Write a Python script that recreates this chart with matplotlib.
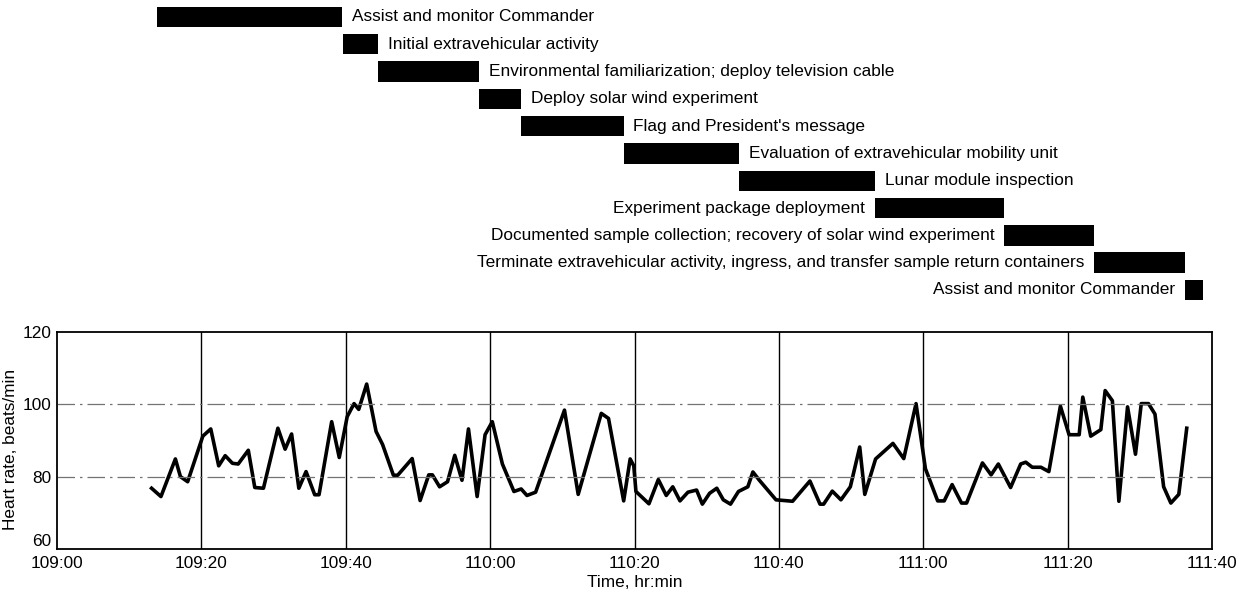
import numpy as np
import matplotlib.pyplot as plt

# time in minutes after 109:00 ground elapsed time
tick_minutes = [0, 20, 40, 60, 80, 100, 120, 140, 160]
tick_labels = ["109:00", "109:20", "109:40", "110:00", "110:20",
               "110:40", "111:00", "111:20", "111:40"]

hr_minutes = [13.1, 14.4, 16.4, 17.1, 18.1, 20.2, 21.3, 22.4, 23.3, 24.3,
              25.1, 26.5, 27.4, 28.6, 30.6, 31.6, 32.5, 33.5, 34.5, 35.7,
              36.3, 38.05, 39.1, 40.2, 41.15, 41.8, 42.9, 44.2, 45.1, 46.6,
              47.2, 49.2, 50.3, 51.5, 52.0, 53.0, 54.1, 55.1, 56.1, 57.0,
              58.2, 59.3, 60.3, 61.7, 63.3, 64.3, 65.1, 66.3, 70.3, 72.2,
              75.4, 76.4, 78.5, 79.4, 79.9, 80.2, 82.0, 83.3, 84.4, 85.3,
              86.3, 87.4, 88.6, 89.4, 90.4, 91.4, 92.3, 93.3, 94.4, 95.7,
              96.4, 97.3, 99.6, 101.9, 104.3, 105.7, 106.2, 107.4, 108.6, 109.9,
              111.2, 111.9, 113.4, 115.8, 117.3, 119.0, 120.3, 122.0, 122.9, 124.0,
              125.3, 126.0, 128.2, 129.4, 130.4, 132.1, 133.5, 134.2, 135.1, 136.3,
              137.4, 139.0, 140.2, 141.6, 142.1, 143.2, 144.6, 145.2, 146.2, 147.1,
              148.3, 149.4, 150.2, 151.2, 152.1, 153.3, 154.3, 155.4, 156.5]
heart_rate = [76.8, 74.5, 84.9, 80.0, 78.6, 91.2, 93.2, 83.0, 85.8, 83.7,
              83.5, 87.3, 77.0, 76.8, 93.4, 87.6, 91.8, 76.8, 81.4, 75.0,
              75.0, 95.2, 85.3, 96.6, 100.2, 98.6, 105.6, 92.5, 88.9, 80.4,
              80.4, 85.0, 73.4, 80.5, 80.5, 77.2, 78.6, 85.9, 79.0, 93.2,
              74.5, 91.6, 95.2, 83.5, 75.9, 76.6, 74.8, 75.7, 98.4, 75.1,
              97.5, 96.1, 73.3, 84.9, 83.0, 75.9, 72.5, 79.2, 74.8, 77.2,
              73.3, 75.7, 76.3, 72.4, 75.4, 76.8, 73.6, 72.4, 75.9, 77.2,
              81.3, 79.0, 73.6, 73.2, 78.8, 72.4, 72.4, 76.0, 73.6, 77.2,
              88.2, 75.1, 84.9, 89.2, 85.0, 100.2, 82.2, 73.3, 73.3, 77.8,
              72.7, 72.7, 83.8, 80.5, 83.5, 77.0, 83.5, 84.0, 82.6, 82.6,
              81.4, 99.5, 91.6, 91.6, 102.0, 91.2, 93.0, 103.8, 101.0, 73.2,
              99.3, 86.2, 100.2, 100.2, 97.3, 77.2, 72.7, 75.1, 93.4]

tasks = ["Assist and monitor Commander",
         "Initial extravehicular activity",
         "Environmental familiarization; deploy television cable",
         "Deploy solar wind experiment",
         "Flag and President's message",
         "Evaluation of extravehicular mobility unit",
         "Lunar module inspection",
         "Experiment package deployment",
         "Documented sample collection; recovery of solar wind experiment",
         "Terminate extravehicular activity, ingress, and transfer sample return containers",
         "Assist and monitor Commander"]
task_start = [13.8, 39.6, 44.5, 58.5, 64.3, 78.5, 94.5, 113.3, 131.25, 143.6, 156.3]
task_end = [39.5, 44.5, 58.5, 64.3, 78.5, 94.5, 113.3, 131.25, 143.6, 156.3, 158.8]
label_right = [True, True, True, True, True, True, True, False, False, False, False]

plt.rcParams['font.family'] = ['Liberation Sans', 'DejaVu Sans']
FS = 12.4

W, H = 1247, 596
fig = plt.figure(figsize=(W / 100, H / 100), dpi=100)
left, right = 57 / W, 1212 / W

# heart rate plot
ax = fig.add_axes([left, 1 - 549 / H, right - left, (549 - 332) / H])
ax.plot(hr_minutes, heart_rate, color='black', lw=2.6, solid_joinstyle='round')
ax.set_xlim(0, 160)
ax.set_ylim(60, 120)
ax.set_xticks(tick_minutes)
ax.set_xticklabels(tick_labels)
ax.set_yticks([60, 80, 100, 120])
ax.tick_params(axis='x', length=0, labelsize=FS, pad=5)
ax.tick_params(axis='y', length=0, labelsize=FS, pad=4)
# bottom y label sits just above the corner
ax.get_yticklabels()[0].set_verticalalignment('bottom')
for m in tick_minutes[1:-1]:
    ax.axvline(m, color='black', lw=1.0)
for v in [80, 100]:
    ax.axhline(v, color='0.45', lw=0.9, linestyle=(0, (14, 4, 2, 4)))
for s in ax.spines.values():
    s.set_linewidth(1.3)
ax.set_xlabel("Time, hr:min", fontsize=FS, labelpad=3)
ax.set_ylabel("Heart rate, beats/min", fontsize=FS)
ax.yaxis.set_label_coords(-0.034, 0.46)

# activity timeline
gx = fig.add_axes([left, 1 - 305 / H, right - left, 305 / H])
gx.set_xlim(0, 160)
gx.set_ylim(10.55, -0.62)
gx.axis('off')
rows = np.arange(len(tasks))
widths = np.array(task_end) - np.array(task_start)
gx.barh(rows, widths, left=task_start, height=0.75, color='black')
for i, name in enumerate(tasks):
    if label_right[i]:
        gx.annotate(name, (task_end[i], i), xytext=(7, 0), textcoords='offset points',
                    ha='left', va='center', fontsize=FS)
    else:
        gx.annotate(name, (task_start[i], i), xytext=(-7, 0), textcoords='offset points',
                    ha='right', va='center', fontsize=FS)

fig.savefig("out.png", dpi=100)
